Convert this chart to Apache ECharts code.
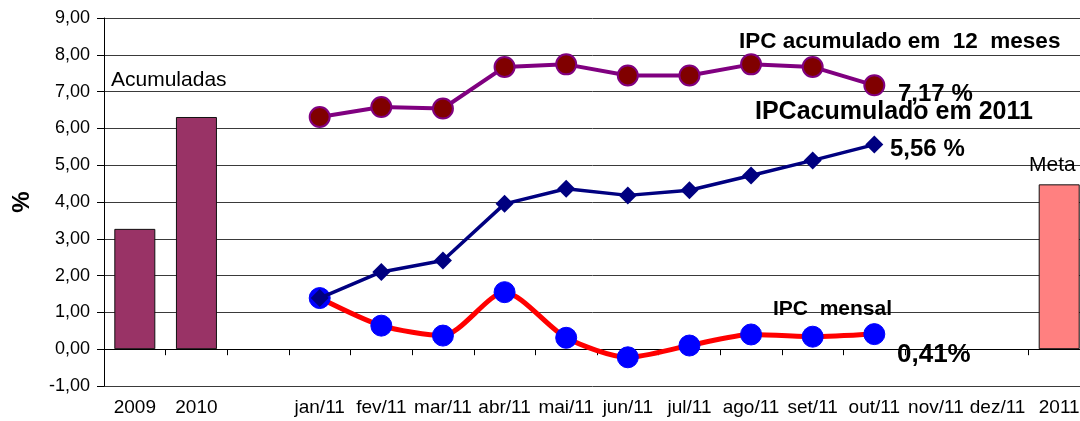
<!DOCTYPE html>
<html>
<head>
<meta charset="utf-8">
<script src="https://cdn.jsdelivr.net/npm/echarts@6/dist/echarts.min.js"></script>
<style>html,body{margin:0;padding:0;background:#fff;}#c{width:1080px;height:421px;}</style>
</head>
<body>
<div id="c"></div>
<script>
var categories = ['2009','2010','','jan/11','fev/11','mar/11','abr/11','mai/11','jun/11','jul/11','ago/11','set/11','out/11','nov/11','dez/11','2011'];
var annualValues = [3.27, 6.31, '-', '-', '-', '-', '-', '-', '-', '-', '-', '-', '-', '-', '-', 4.48];
var ipc12Months = ['-', '-', '-', 6.31, 6.58, 6.54, 7.67, 7.74, 7.44, 7.44, 7.74, 7.67, 7.17, '-', '-', '-'];
var ipcYear2011 = ['-', '-', '-', 1.39, 2.10, 2.41, 3.95, 4.36, 4.18, 4.32, 4.72, 5.13, 5.56, '-', '-', '-'];
var ipcMonthly = ['-', '-', '-', 1.39, 0.64, 0.37, 1.55, 0.31, -0.22, 0.10, 0.40, 0.34, 0.41, '-', '-', '-'];
var yTicks = {min: -1, max: 9, interval: 1};

var chart = echarts.init(document.getElementById('c'));
var FONT = '"Liberation Sans", Arial, sans-serif';

var barData = annualValues.map(function (v, i) {
  if (v === '-') return v;
  if (categories[i] === '2011') return {value: v, itemStyle: {color: '#FF8080'}};
  return v;
});

function txt(text, x, y, size, bold) {
  return {
    type: 'text', x: x, y: y, z: 100,
    style: {text: text, fill: '#000', font: (bold ? 'bold ' : '') + size + 'px ' + FONT,
            textAlign: 'left', textVerticalAlign: 'middle', verticalAlign: 'middle'}
  };
}

chart.setOption({
  animation: false,
  backgroundColor: '#fff',
  grid: {left: 104, top: 18, width: 986, bottom: 35, containLabel: false, outerBoundsMode: 'none'},
  xAxis: {
    type: 'category', data: categories, boundaryGap: true,
    axisLine: {lineStyle: {color: '#000', width: 1}},
    axisTick: {show: true, length: 6, interval: 0, lineStyle: {color: '#000'}},
    axisLabel: {interval: 0, color: '#000', fontSize: 19, fontFamily: FONT, margin: 12, hideOverlap: false},
    splitLine: {show: false}
  },
  yAxis: {
    type: 'value', min: yTicks.min, max: yTicks.max, interval: yTicks.interval,
    name: '%', nameLocation: 'middle', nameGap: 70, nameRotate: 90,
    nameTextStyle: {fontSize: 24, fontWeight: 'bold', color: '#000', fontFamily: FONT},
    axisLine: {show: true, lineStyle: {color: '#000', width: 1}},
    axisTick: {show: true, length: 7, lineStyle: {color: '#000'}},
    axisLabel: {color: '#000', fontSize: 18, fontFamily: FONT, margin: 14,
      formatter: function (v) { return v.toFixed(2).replace('.', ','); }},
    splitLine: {show: true, lineStyle: {color: '#3a3a3a', width: 1}}
  },
  series: [
    {
      type: 'bar', data: barData, barWidth: 41, z: 1,
      itemStyle: {color: '#993366', borderColor: '#111', borderWidth: 1}
    },
    {
      type: 'line', data: ipc12Months, z: 3,
      symbol: 'circle', symbolSize: 20,
      lineStyle: {color: '#800080', width: 4},
      itemStyle: {color: '#800000', borderColor: '#800080', borderWidth: 2}
    },
    {
      type: 'line', data: ipcMonthly, z: 4, smooth: 0.25,
      symbol: 'circle', symbolSize: 21,
      lineStyle: {color: '#FF0000', width: 5},
      itemStyle: {color: '#0000FF', borderColor: '#0000FF', borderWidth: 1}
    },
    {
      type: 'line', data: ipcYear2011, z: 5,
      symbol: 'diamond', symbolSize: 18,
      lineStyle: {color: '#000080', width: 3.5},
      itemStyle: {color: '#000080'}
    }
  ],
  graphic: [
    txt('Acumuladas', 111, 80, 21, false),
    txt('IPC acumulado em  12  meses', 739, 42, 22.5, true),
    txt('7,17 %', 898, 94, 24, true),
    txt('IPCacumulado em 2011', 755, 112, 25, true),
    txt('5,56 %', 890, 149, 24, true),
    txt('Meta', 1029, 165, 21, false),
    txt('IPC  mensal', 773, 309, 21, true),
    txt('0,41%', 897, 355, 26, true)
  ]
});
</script>
</body>
</html>
